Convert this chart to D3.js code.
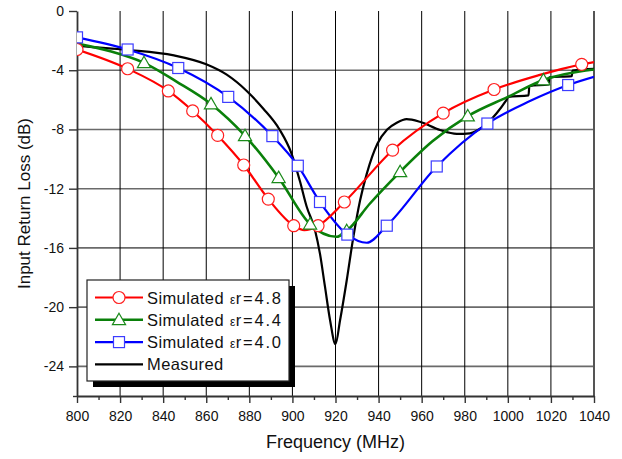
<!DOCTYPE html>
<html>
<head>
<meta charset="utf-8">
<script src="https://cdn.jsdelivr.net/npm/d3@7"></script>
<style>
  body { margin: 0; background: #fff; }
  svg { display: block; font-family: "Liberation Sans", Arial, sans-serif; }
</style>
</head>
<body>
<div id="chart"></div>
<script>
// Input return loss vs frequency: three simulated curves and the measurement.
const freq48 = [800, 823.5, 842.4, 853.7, 865.3, 877.4, 888.8, 900.6, 905.5, 911.9, 924.1, 946.5, 970, 993.6, 1014, 1034.3, 1040];
const rl48 = [-2.6, -3.9, -5.4, -6.75, -8.4, -10.4, -12.7, -14.5, -14.8, -14.5, -12.9, -9.4, -6.9, -5.3, -4.35, -3.6, -3.45];
const mark48 = [0, 1, 2, 3, 4, 5, 6, 7, 9, 10, 11, 12, 13, 15];

const freq44 = [800, 815, 831.1, 846, 862.2, 878, 893.6, 908.2, 920.5, 925.2, 936, 950, 965, 981.4, 1000, 1016.5, 1040];
const rl44 = [-2.2, -2.7, -3.5, -4.75, -6.28, -8.43, -11.26, -14.4, -15.25, -14.85, -13.0, -10.86, -8.8, -7.1, -5.8, -4.66, -3.95];
const mark44 = [2, 4, 5, 6, 7, 9, 11, 13, 15];

const freq40 = [800, 823.5, 847, 870.2, 890.7, 902.5, 912.8, 925.5, 934.5, 943.8, 967, 990.5, 1010, 1028, 1040];
const rl40 = [-1.78, -2.6, -3.85, -5.8, -8.45, -10.45, -12.9, -15.1, -15.65, -14.5, -10.5, -7.6, -6.1, -5.0, -4.45];
const mark40 = [0, 1, 2, 3, 4, 5, 6, 7, 9, 10, 11, 13];

const freqMeas = [800, 823, 845, 860, 869.5, 878.8, 886.5, 894, 899.5, 903.5, 906.6, 910.5, 912.8, 915.1, 917.5, 920, 922.1, 925.2, 928.3, 931.4, 934.5, 939.5, 944, 948.4, 953, 959.2, 968.5, 976.3, 982.4, 988.6, 994.8, 999.4, 1000.3, 1009.6, 1010, 1018.9, 1019.3, 1029.7, 1030, 1040];
const rlMeas = [-2.35, -2.62, -3.0, -3.6, -4.3, -5.4, -6.6, -8.0, -9.6, -11.5, -13.2, -14.8, -16.4, -18.6, -20.9, -22.5, -20.9, -18.2, -15.25, -12.8, -11.0, -8.95, -8.0, -7.55, -7.3, -7.48, -8.04, -8.3, -8.26, -7.8, -6.9, -6.0, -5.8, -5.7, -5.07, -4.95, -4.48, -4.4, -4.03, -3.9];

const xTicks = d3.range(800, 1041, 20);
const xMinor = d3.range(810, 1040, 20);
const yTicks = d3.range(-24, 1, 4);
const yMinor = d3.range(-26, 0, 4);

const series = [
  { label: 'Simulated ', eps: 'ε', tail: 'r=4.8', f: freq48, v: rl48, marks: mark48, color: '#ff0000', markColor: '#ff2020', shape: 'circle', width: 2.2 },
  { label: 'Simulated ', eps: 'ε', tail: 'r=4.4', f: freq44, v: rl44, marks: mark44, color: '#0a800a', markColor: '#1a8a1a', shape: 'triangle', width: 2.6 },
  { label: 'Simulated ', eps: 'ε', tail: 'r=4.0', f: freq40, v: rl40, marks: mark40, color: '#0000ff', markColor: '#3c3cff', shape: 'square', width: 2.2 },
  { label: 'Measured', f: freqMeas, v: rlMeas, marks: [], color: '#000000', shape: null, width: 2.2 },
];

const W = 622, H = 459;
const PLOT = { left: 77, right: 594, top: 11, bottom: 396 };
const fmt = d => String(d);

const svg = d3.select('#chart').append('svg').attr('width', W).attr('height', H);

const x = d3.scaleLinear().domain([800, 1040]).range([PLOT.left, PLOT.right]);
const y = d3.scaleLinear().domain([-26, 0]).range([PLOT.bottom, PLOT.top]);

// grid
const grid = svg.append('g');
yTicks.filter(v => v !== 0).forEach(v => {
  grid.append('line')
    .attr('x1', PLOT.left).attr('x2', PLOT.right)
    .attr('y1', y(v)).attr('y2', y(v))
    .attr('stroke', '#6a6a6a').attr('stroke-width', 1.6);
});
xTicks.filter(v => v !== 800 && v !== 1040).forEach(v => {
  grid.append('line')
    .attr('x1', x(v)).attr('x2', x(v))
    .attr('y1', PLOT.top).attr('y2', PLOT.bottom)
    .attr('stroke', '#000').attr('stroke-width', 1);
});
// right frame
grid.append('line')
  .attr('x1', PLOT.right).attr('x2', PLOT.right)
  .attr('y1', PLOT.top).attr('y2', PLOT.bottom)
  .attr('stroke', '#555').attr('stroke-width', 2);

// axes
svg.append('g')
  .attr('transform', `translate(${PLOT.left},0)`)
  .call(d3.axisLeft(y).tickValues(yTicks).tickFormat(fmt).tickSize(8).tickSizeOuter(0).tickPadding(5));
svg.append('g')
  .attr('transform', `translate(${PLOT.left},0)`)
  .call(d3.axisLeft(y).tickValues(yMinor.map(v => v + 2).concat([-26]).filter(v => v < 0 && v % 4 !== 0)).tickSize(4).tickFormat(''))
  .call(g => g.select('.domain').remove());

svg.append('g')
  .attr('transform', `translate(0,${PLOT.bottom})`)
  .call(d3.axisBottom(x).tickValues(xTicks).tickFormat(fmt).tickSize(7).tickSizeOuter(0).tickPadding(8));
svg.append('g')
  .attr('transform', `translate(0,${PLOT.bottom})`)
  .call(d3.axisBottom(x).tickValues(xMinor).tickSize(4).tickFormat(''))
  .call(g => g.select('.domain').remove());

svg.selectAll('.domain').attr('stroke', '#333').attr('stroke-width', 1.8);
svg.selectAll('.tick line').attr('stroke', '#333').attr('stroke-width', 1.4);
svg.selectAll('.tick text').attr('font-size', 14).attr('fill', '#111')
  .attr('font-family', '"Liberation Sans", Arial, sans-serif');

svg.append('text')
  .attr('x', (PLOT.left + PLOT.right) / 2).attr('y', 448)
  .attr('text-anchor', 'middle').attr('font-size', 18).attr('fill', '#111')
  .text('Frequency (MHz)');
svg.append('text')
  .attr('transform', `translate(30,${(PLOT.top + PLOT.bottom) / 2}) rotate(-90)`)
  .attr('text-anchor', 'middle').attr('font-size', 17).attr('fill', '#111')
  .text('Input Return Loss (dB)');

// curves
svg.append('clipPath').attr('id', 'plotclip').append('rect')
  .attr('x', PLOT.left).attr('y', PLOT.top)
  .attr('width', PLOT.right - PLOT.left).attr('height', PLOT.bottom - PLOT.top);
const plot = svg.append('g').attr('clip-path', 'url(#plotclip)');

const line = d3.line().x(d => x(d[0])).y(d => y(d[1])).curve(d3.curveMonotoneX);

function drawMarker(g, shape, cx, cy, color) {
  if (shape === 'circle') {
    g.append('circle').attr('cx', cx).attr('cy', cy).attr('r', 6)
      .attr('fill', '#fff').attr('stroke', color).attr('stroke-width', 1.2);
  } else if (shape === 'triangle') {
    const s = d3.symbol().type(d3.symbolTriangle).size(75);
    g.append('path').attr('d', s()).attr('transform', `translate(${cx},${cy + 1})`)
      .attr('fill', '#fff').attr('stroke', color).attr('stroke-width', 1.2);
  } else if (shape === 'square') {
    g.append('rect').attr('x', cx - 5.5).attr('y', cy - 5.5).attr('width', 11).attr('height', 11)
      .attr('fill', '#fff').attr('stroke', color).attr('stroke-width', 1.2);
  }
}

series.slice().reverse().forEach(s => {
  const pts = s.f.map((f, i) => [f, s.v[i]]);
  plot.append('path').datum(pts).attr('d', line)
    .attr('fill', 'none').attr('stroke', s.color).attr('stroke-width', s.width)
    .attr('stroke-linejoin', 'round');
});
series.forEach(s => {
  s.marks.forEach(i => drawMarker(plot, s.shape, x(s.f[i]), y(s.v[i]), s.markColor));
});

// legend
const lg = svg.append('g').attr('transform', 'translate(87,280)');
lg.append('rect').attr('x', 6).attr('y', 6).attr('width', 202).attr('height', 101).attr('fill', '#000');
lg.append('rect').attr('x', 0).attr('y', 0).attr('width', 202).attr('height', 101)
  .attr('fill', '#fff').attr('stroke', '#222').attr('stroke-width', 1.2);
series.forEach((s, i) => {
  const cy = 17.5 + i * 22.3;
  lg.append('line').attr('x1', 8).attr('x2', 56).attr('y1', cy).attr('y2', cy)
    .attr('stroke', s.color).attr('stroke-width', s.width);
  if (s.shape) drawMarker(lg, s.shape, 32, cy, s.markColor);
  const t = lg.append('text').attr('x', 60).attr('y', cy + 6).attr('font-size', 16.5).attr('fill', '#111')
    .attr('letter-spacing', 0.4);
  t.append('tspan').text(s.label);
  if (s.eps) {
    t.append('tspan').attr('font-size', 12).attr('dx', 1).text(s.eps);
    t.append('tspan').attr('letter-spacing', 1.8).text(s.tail);
  }
});
</script>
</body>
</html>
